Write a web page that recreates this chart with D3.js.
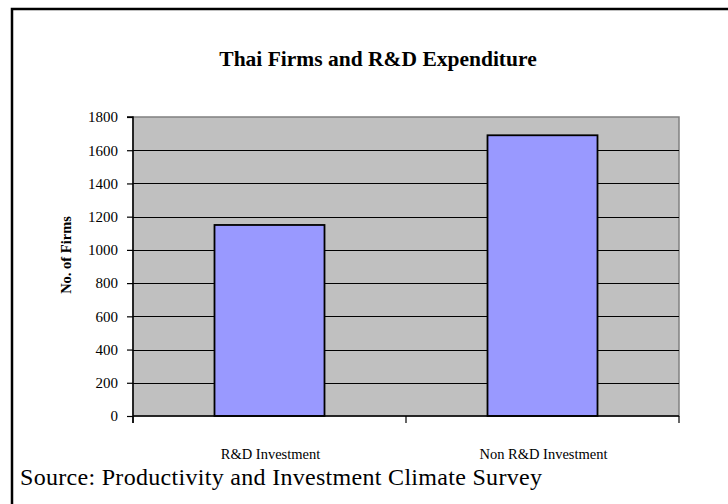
<!DOCTYPE html>
<html>
<head>
<meta charset="utf-8">
<script src="https://cdn.jsdelivr.net/npm/d3@7"></script>
<style>
  body { margin: 0; background: #fff; }
  svg { display: block; }
</style>
</head>
<body>
<div id="chart"></div>
<script>
// data
const categories = ["R&D Investment", "Non R&D Investment"];
const firmCounts = [1150, 1690];
const yTicks = [0, 200, 400, 600, 800, 1000, 1200, 1400, 1600, 1800];

const W = 728, H = 504;
const plot = { left: 133, top: 117, right: 679, bottom: 416 };
const serif = "'Liberation Serif', 'Times New Roman', serif";

const svg = d3.select("#chart").append("svg").attr("width", W).attr("height", H);

// frame (left + top edge)
svg.append("path")
    .attr("d", `M12,${H} L12,9 L${W},9`)
    .attr("fill", "none").attr("stroke", "#000").attr("stroke-width", 2.5);

// title
svg.append("text")
    .attr("x", 378).attr("y", 66)
    .attr("text-anchor", "middle")
    .style("font-family", serif)
    .style("font-weight", "bold").style("font-size", "21.5px")
    .text("Thai Firms and R&D Expenditure");

const x = d3.scaleBand().domain(categories).range([plot.left, plot.right]);
const y = d3.scaleLinear().domain([0, 1800]).range([plot.bottom, plot.top]);

// plot area
svg.append("rect")
    .attr("x", plot.left).attr("y", plot.top)
    .attr("width", plot.right - plot.left).attr("height", plot.bottom - plot.top)
    .attr("fill", "#c0c0c0").attr("stroke", "#808080").attr("stroke-width", 1.5);

// gridlines
svg.append("g")
    .selectAll("line")
    .data(yTicks.filter(t => t > 0 && t < 1800))
    .enter().append("line")
    .attr("x1", plot.left).attr("x2", plot.right)
    .attr("y1", d => Math.round(y(d)) + 0.5).attr("y2", d => Math.round(y(d)) + 0.5)
    .attr("stroke", "#000").attr("stroke-width", 1);

// bars
const barW = 110;
svg.append("g")
    .selectAll("rect")
    .data(firmCounts)
    .enter().append("rect")
    .attr("x", (d, i) => x(categories[i]) + x.bandwidth() / 2 - barW / 2)
    .attr("y", d => y(d))
    .attr("width", barW)
    .attr("height", d => y(0) - y(d))
    .attr("fill", "#9999ff").attr("stroke", "#000").attr("stroke-width", 1.8);

// y axis
const yAxis = d3.axisLeft(y).tickValues(yTicks).tickFormat(d3.format("d")).tickSize(6).tickPadding(9);
const yG = svg.append("g")
    .attr("transform", `translate(${plot.left},0)`)
    .call(yAxis);
yG.select(".domain").attr("stroke", "#000").attr("stroke-width", 1.5).attr("d", `M-6,${plot.top}H0V${plot.bottom + 7}`);
yG.selectAll(".tick line").attr("stroke", "#000").attr("stroke-width", 1.2);
yG.selectAll("text")
    .style("font-family", serif)
    .style("font-size", "15px").attr("fill", "#000");

// x axis ticks (category boundaries)
const xBounds = [plot.left, x(categories[1]), plot.right];
svg.append("g")
    .selectAll("line")
    .data(xBounds)
    .enter().append("line")
    .attr("x1", d => d).attr("x2", d => d)
    .attr("y1", plot.bottom).attr("y2", plot.bottom + 7)
    .attr("stroke", "#000").attr("stroke-width", 1.2);
svg.append("line")
    .attr("x1", plot.left).attr("x2", plot.right)
    .attr("y1", plot.bottom).attr("y2", plot.bottom)
    .attr("stroke", "#000").attr("stroke-width", 1.5);

// category labels
svg.append("g")
    .selectAll("text")
    .data(categories)
    .enter().append("text")
    .attr("x", d => x(d) + x.bandwidth() / 2 + 1)
    .attr("y", 459)
    .attr("text-anchor", "middle")
    .style("font-family", serif)
    .style("font-size", "14.5px")
    .text(d => d);

// y axis title
svg.append("text")
    .attr("transform", "translate(71,255) rotate(-90)")
    .attr("text-anchor", "middle")
    .style("font-family", serif)
    .style("font-weight", "bold").style("font-size", "14.5px")
    .text("No. of Firms");

// source note
svg.append("text")
    .attr("x", 20).attr("y", 485)
    .style("font-family", serif)
    .style("font-size", "24px")
    .style("letter-spacing", "0.3px")
    .text("Source: Productivity and Investment Climate Survey");
</script>
</body>
</html>
